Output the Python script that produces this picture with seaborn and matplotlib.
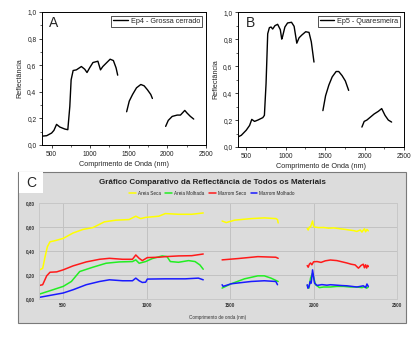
import numpy as np
import pandas as pd
import matplotlib
matplotlib.use("Agg")
import matplotlib.pyplot as plt
from matplotlib.patches import Rectangle
from matplotlib.ticker import FuncFormatter, MultipleLocator
import seaborn as sns

sns.set_theme(style="white")
plt.rcParams["font.family"] = ["Liberation Sans", "DejaVu Sans"]

# ---- Ep4 - Grossa cerrado (segments split at water absorption bands) ----
a_wl_1 = [350, 436, 500, 530, 564, 607, 671, 710, 736, 753, 779, 821, 886, 929, 959,
          993, 1036, 1100, 1134, 1164, 1207, 1259, 1301, 1336, 1357]
a_rf_1 = [0.065, 0.07, 0.09, 0.11, 0.155, 0.135, 0.12, 0.115, 0.29, 0.49, 0.56, 0.565,
          0.59, 0.57, 0.545, 0.58, 0.62, 0.63, 0.565, 0.59, 0.615, 0.645, 0.635, 0.58, 0.525]
a_wl_2 = [1473, 1507, 1550, 1601, 1657, 1700, 1743, 1786, 1807]
a_rf_2 = [0.25, 0.33, 0.38, 0.43, 0.455, 0.445, 0.415, 0.38, 0.35]
a_wl_3 = [1979, 2013, 2064, 2129, 2171, 2227, 2257, 2300, 2343]
a_rf_3 = [0.14, 0.185, 0.215, 0.225, 0.225, 0.26, 0.24, 0.215, 0.195]

# ---- Ep5 - Quaresmeira ----
b_wl_1 = [395, 437, 500, 542, 570, 605, 647, 710, 730, 751, 772, 793, 814, 835, 864,
          898, 932, 950, 961, 990, 1024, 1074, 1107, 1141, 1170, 1204, 1254, 1296, 1325, 1359]
b_rf_1 = [0.075, 0.087, 0.125, 0.16, 0.205, 0.19, 0.2, 0.218, 0.235, 0.47, 0.84, 0.885,
          0.89, 0.875, 0.9, 0.91, 0.87, 0.8, 0.82, 0.89, 0.92, 0.925, 0.895, 0.77, 0.81,
          0.83, 0.855, 0.85, 0.78, 0.63]
b_wl_2 = [1472, 1506, 1548, 1590, 1640, 1673, 1715, 1757, 1799]
b_rf_2 = [0.27, 0.38, 0.46, 0.52, 0.56, 0.56, 0.53, 0.49, 0.42]
b_wl_3 = [1967, 1996, 2030, 2071, 2122, 2176, 2218, 2260, 2302, 2344]
b_rf_3 = [0.148, 0.19, 0.2, 0.22, 0.245, 0.265, 0.285, 0.235, 0.2, 0.185]

# ---- Comparative chart: four soil samples ----
materials = ["Areia Seca", "Areia Molhada", "Marrom Seco", "Marrom Molhado"]
colors = ["#ffff00", "#22ee22", "#ff1a1a", "#1a1aff"]

c_wl_1 = {
    "Areia Seca": [358, 377, 391, 405, 421, 451, 500, 559, 619, 678, 747, 816, 895, 935,
                   964, 994, 1073, 1112, 1191, 1270, 1339],
    "Areia Molhada": [358, 421, 500, 549, 599, 678, 757, 836, 915, 935, 955, 994, 1034,
                      1093, 1122, 1142, 1191, 1251, 1290, 1319, 1339],
    "Marrom Seco": [358, 377, 401, 421, 461, 500, 559, 638, 718, 777, 856, 915, 935, 955,
                    974, 1004, 1073, 1112, 1191, 1270, 1339],
    "Marrom Molhado": [358, 421, 500, 559, 638, 718, 777, 856, 915, 935, 955, 974, 994,
                       1004, 1112, 1231, 1310, 1339],
}
c_rf_1 = {
    "Areia Seca": [0.243, 0.255, 0.35, 0.435, 0.477, 0.486, 0.505, 0.55, 0.58, 0.595,
                   0.643, 0.657, 0.662, 0.69, 0.67, 0.68, 0.69, 0.712, 0.706, 0.706, 0.717],
    "Areia Molhada": [0.041, 0.069, 0.105, 0.146, 0.229, 0.265, 0.298, 0.309, 0.312,
                      0.326, 0.298, 0.312, 0.337, 0.359, 0.353, 0.312, 0.306, 0.32,
                      0.312, 0.284, 0.248],
    "Marrom Seco": [0.113, 0.119, 0.193, 0.223, 0.226, 0.243, 0.276, 0.309, 0.331, 0.339,
                    0.331, 0.331, 0.367, 0.339, 0.32, 0.345, 0.348, 0.353, 0.359, 0.361,
                    0.375],
    "Marrom Molhado": [0.014, 0.03, 0.05, 0.077, 0.119, 0.146, 0.16, 0.152, 0.152, 0.174,
                       0.152, 0.138, 0.14, 0.166, 0.168, 0.168, 0.174, 0.16],
}
c_wl_2 = {
    "Areia Seca": [1452, 1477, 1527, 1626, 1705, 1774, 1784, 1788],
    "Areia Molhada": [1452, 1507, 1586, 1666, 1705, 1745, 1788],
    "Marrom Seco": [1452, 1547, 1666, 1774, 1788],
    "Marrom Molhado": [1452, 1458, 1507, 1626, 1705, 1774, 1784],
}
c_rf_2 = {
    "Areia Seca": [0.65, 0.637, 0.657, 0.67, 0.676, 0.67, 0.662, 0.634],
    "Areia Molhada": [0.091, 0.127, 0.168, 0.193, 0.193, 0.174, 0.146],
    "Marrom Seco": [0.326, 0.337, 0.353, 0.348, 0.339],
    "Marrom Molhado": [0.119, 0.105, 0.127, 0.146, 0.152, 0.146, 0.119],
}
c_wl_3 = {
    "Areia Seca": [1962, 1968, 1975, 1982, 1994, 2000, 2006, 2030, 2061, 2090, 2121, 2160,
                   2190, 2219, 2240, 2259, 2280, 2290, 2298, 2305, 2312, 2320, 2328],
    "Areia Molhada": [1962, 1972, 1982, 1994, 2012, 2035, 2061, 2100, 2140, 2180, 2220,
                      2259, 2290, 2310, 2318, 2328],
    "Marrom Seco": [1962, 1968, 1975, 1982, 1990, 2000, 2021, 2045, 2070, 2101, 2140, 2170,
                    2200, 2225, 2249, 2269, 2285, 2298, 2305, 2312, 2318, 2324, 2328],
    "Marrom Molhado": [1962, 1966, 1972, 1980, 1986, 1994, 2006, 2021, 2050, 2080, 2101,
                       2140, 2170, 2200, 2230, 2259, 2280, 2298, 2312, 2320, 2328],
}
c_rf_3 = {
    "Areia Seca": [0.588, 0.575, 0.6, 0.6, 0.65, 0.605, 0.6, 0.595, 0.596, 0.59, 0.593,
                   0.585, 0.58, 0.574, 0.57, 0.563, 0.575, 0.558, 0.574, 0.585, 0.56,
                   0.58, 0.568],
    "Areia Molhada": [0.113, 0.09, 0.174, 0.215, 0.119, 0.095, 0.1, 0.1, 0.105, 0.105,
                      0.1, 0.1, 0.095, 0.105, 0.09, 0.1],
    "Marrom Seco": [0.279, 0.265, 0.29, 0.3, 0.285, 0.31, 0.312, 0.305, 0.318, 0.325,
                    0.32, 0.31, 0.3, 0.29, 0.284, 0.257, 0.28, 0.29, 0.26, 0.285,
                    0.258, 0.28, 0.27],
    "Marrom Molhado": [0.119, 0.09, 0.1, 0.146, 0.132, 0.243, 0.132, 0.113, 0.12, 0.115,
                       0.119, 0.115, 0.112, 0.11, 0.105, 0.1, 0.105, 0.11, 0.095, 0.125,
                       0.105],
}


def segments_frame(parts):
    rows = []
    for seg, (wl, rf) in enumerate(parts):
        for w, r in zip(wl, rf):
            rows.append({"wl": w, "rf": r, "seg": seg})
    return pd.DataFrame(rows)


comma1 = FuncFormatter(lambda v, p: f"{v:.1f}".replace(".", ","))
comma2 = FuncFormatter(lambda v, p: f"{v:.2f}".replace(".", ","))

fig = plt.figure(figsize=(4.19, 3.38), dpi=100)
fig.patch.set_facecolor("white")


def spectrum_panel(rect, parts, label, letter, xmin):
    ax = fig.add_axes(rect)
    df = segments_frame(parts)
    sns.lineplot(data=df, x="wl", y="rf", units="seg", estimator=None, sort=False,
                 color="black", linewidth=1.0, ax=ax, legend=False)
    ax.set_xlim(xmin, 2500)
    ax.set_ylim(0, 1.0)
    ax.xaxis.set_major_locator(MultipleLocator(500))
    ax.xaxis.set_minor_locator(MultipleLocator(250))
    ax.yaxis.set_major_locator(MultipleLocator(0.2))
    ax.yaxis.set_minor_locator(MultipleLocator(0.1))
    ax.yaxis.set_major_formatter(comma1)
    ax.tick_params(which="major", direction="out", length=2.5, width=0.6,
                   labelsize=4.8, pad=1.5, left=True, bottom=True, colors="#222222")
    ax.tick_params(which="minor", direction="out", length=1.5, width=0.5,
                   left=True, bottom=True)
    for s in ax.spines.values():
        s.set_color("black")
        s.set_linewidth(0.7)
    ax.set_xlabel("Comprimento de Onda (nm)", fontsize=5.2, labelpad=2.5)
    ax.set_ylabel("Reflectância", fontsize=5.2, labelpad=3)
    ax.text(0.045, 0.92, letter, transform=ax.transAxes, fontsize=10, va="center")
    h = plt.Line2D([], [], color="black", linewidth=1.0)
    leg = ax.legend([h], [label], loc="upper right", fontsize=5.2, frameon=True,
                    fancybox=False, borderpad=0.3, handlelength=2.0, handletextpad=0.4,
                    borderaxespad=0.5)
    leg.get_frame().set_edgecolor("black")
    leg.get_frame().set_linewidth(0.6)
    return ax


spectrum_panel([0.1002, 0.571, 0.391, 0.3935],
               [(a_wl_1, a_rf_1), (a_wl_2, a_rf_2), (a_wl_3, a_rf_3)],
               "Ep4 - Grossa cerrado", "A", 375)
spectrum_panel([0.568, 0.565, 0.396, 0.399],
               [(b_wl_1, b_rf_1), (b_wl_2, b_rf_2), (b_wl_3, b_rf_3)],
               "Ep5 - Quaresmeira", "B", 395)

# ---- Panel C: gray chart area ----
W, H = 419, 338
fig.patches.append(Rectangle((18 / W, 1 - 323 / H), (406 - 18) / W, (323 - 172) / H,
                             transform=fig.transFigure, facecolor="#dcdcdc",
                             edgecolor="#7a7a7a", linewidth=0.8, zorder=-2))
fig.patches.append(Rectangle((19 / W, 1 - 193 / H), 24 / W, 21 / H,
                             transform=fig.transFigure, facecolor="white",
                             edgecolor="none", zorder=-1))
fig.text(31 / W, 1 - 183 / H, "C", fontsize=10, ha="center", va="center")
fig.text(212 / W, 1 - 183 / H, "Gráfico Comparativo da Reflectância de Todos os Materiais",
         fontsize=5.8, fontweight="bold", ha="center", va="center", color="#222222")

axc = fig.add_axes([39 / W, 1 - 299 / H, 358 / W, 96 / H])
axc.set_facecolor("#dcdcdc")
rows = []
for m in materials:
    for seg, (wl_d, rf_d) in enumerate([(c_wl_1, c_rf_1), (c_wl_2, c_rf_2), (c_wl_3, c_rf_3)]):
        for w, r in zip(wl_d[m], rf_d[m]):
            rows.append({"wl": w, "rf": r, "material": m, "seg": seg})
dfc = pd.DataFrame(rows)
sns.lineplot(data=dfc, x="wl", y="rf", hue="material", hue_order=materials,
             palette=colors, units="seg", estimator=None, sort=False,
             linewidth=1.1, ax=axc, legend=False)
axc.set_xlim(355, 2500)
axc.set_ylim(0, 0.8)
axc.xaxis.set_major_locator(MultipleLocator(500))
axc.yaxis.set_major_locator(MultipleLocator(0.2))
axc.yaxis.set_major_formatter(comma2)
axc.grid(True, color="#c2c2c2", linewidth=0.7)
axc.set_axisbelow(True)
axc.tick_params(length=0, labelsize=3.3, pad=3, colors="#333333")
for t in axc.get_yticklabels() + axc.get_xticklabels():
    t.set_fontweight("bold")
for s in axc.spines.values():
    s.set_color("#c8c8c8")
    s.set_linewidth(0.7)
axc.set_xlabel("Comprimento de onda (nm)", fontsize=3.3, labelpad=5, color="#333333")
axc.set_ylabel("")

handles = [plt.Line2D([], [], color=c, linewidth=1.1) for c in colors]
fig.legend(handles, materials, loc="center", bbox_to_anchor=(212 / W, 1 - 193.5 / H),
           ncol=4, fontsize=3.3, frameon=False, handlelength=1.5, handletextpad=0.4,
           columnspacing=1.0)

fig.savefig("out.png", dpi=100)
